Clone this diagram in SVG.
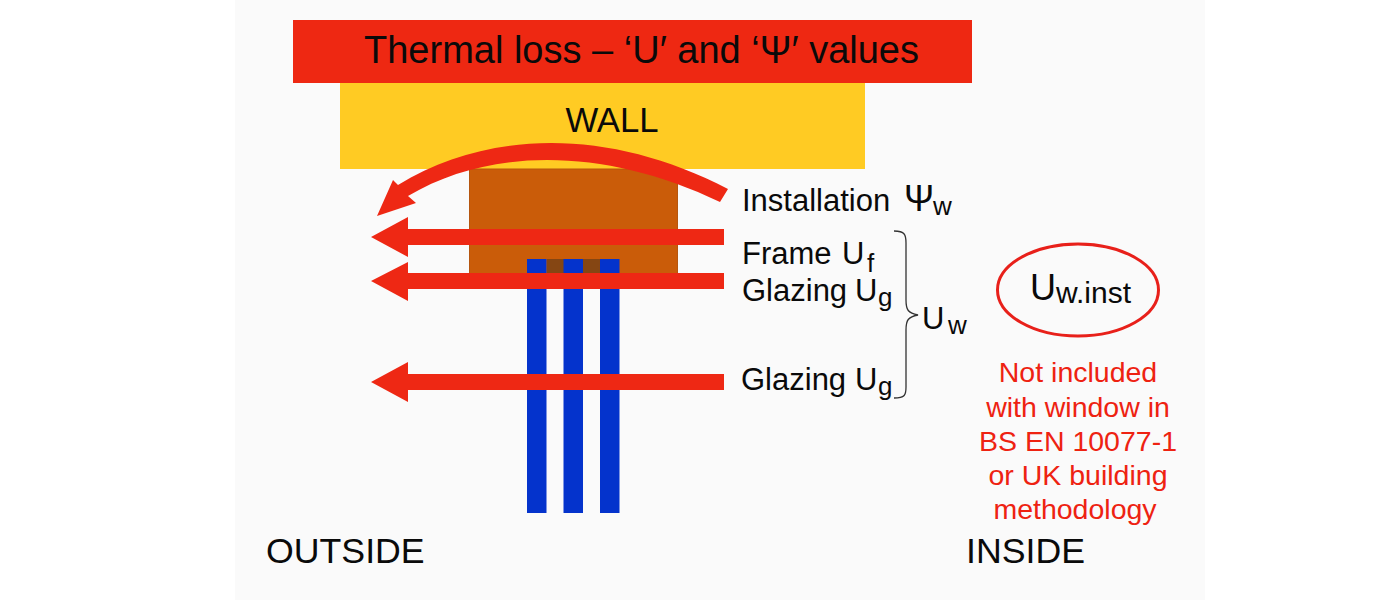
<svg xmlns="http://www.w3.org/2000/svg" width="1400" height="600" viewBox="0 0 1400 600">
<style>
text{font-family:"Liberation Sans",Arial,sans-serif;fill:#0a0a0a}
.lbl{font-size:31px}
.sub{font-size:26px}
.note{fill:#ee2211;font-size:28.500px;text-anchor:middle}
.glass{fill:#0433cc}
.arrow{fill:#ee2814}
.big{font-size:35.700px}
</style>
<rect width="1400" height="600" fill="#fff"/>
<rect x="235" y="0" width="970" height="600" fill="#fafafa"/>
<g id="title"><rect x="293" y="20" width="679" height="63" fill="#ee2812"/>
<text x="641.500" y="63" text-anchor="middle" style="font-size:38px">Thermal loss – ‘U′ and ‘Ψ′ values</text></g>
<g id="wall"><rect x="340" y="83" width="525" height="86" fill="#ffcb23"/>
<text x="612" y="132" text-anchor="middle" style="font-size:34.700px">WALL</text></g>
<g id="frame"><rect x="469.500" y="169" width="208" height="105" fill="#ca5c09" stroke="#b5560f" stroke-width="1"/></g>
<g id="glazing">
<rect x="547" y="259" width="17" height="15" fill="#854613"/>
<rect x="583" y="259" width="17" height="15" fill="#854613"/>
<rect class="glass" x="527" y="259" width="19.500" height="254"/>
<rect class="glass" x="563.500" y="259" width="19.500" height="254"/>
<rect class="glass" x="600" y="259" width="19.500" height="254"/>
</g>
<g id="connectors">
<path class="arrow" d="M724 229V245H408V257L371 237L408 217V229Z"/>
<path class="arrow" d="M724 273V289H408V301L371 281L408 262V273Z"/>
<path class="arrow" d="M724 374V390H408V402L371 382L408 362V374Z"/>
<path class="arrow" d="M728 189C610 128 490 129 398 185L393 180L377 216L416 203L408 196C490 147 606 147 720 202Z"/>
<path id="bracket" d="M894 231C905 231 906 235 906 243V300C906 310 908 313 918 315C908 317 906 320 906 330V387C906 395 905 398 894 398" fill="none" stroke="#333" stroke-width="1.300"/>
</g>
<g id="label-installation"><text class="lbl" x="742" y="211">Installation <tspan x="904" style="font-size:36px">Ψ</tspan><tspan class="sub" x="933" dy="4">w</tspan></text></g>
<g id="label-frame"><text class="lbl" x="742" y="264">Frame <tspan x="842">U</tspan><tspan class="sub" x="867" dy="8">f</tspan></text></g>
<g id="label-glazing-1"><text class="lbl" x="742" y="301">Glazing <tspan x="855">U</tspan><tspan class="sub" x="878" dy="5">g</tspan></text></g>
<g id="label-glazing-2"><text class="lbl" x="741" y="390">Glazing <tspan x="855">U</tspan><tspan class="sub" x="878" dy="5">g</tspan></text></g>
<g id="label-uw"><text class="lbl" x="922" y="329">U<tspan class="sub" x="948" dy="5">w</tspan></text></g>
<g id="uwinst"><ellipse cx="1078" cy="290" rx="80.500" ry="46" fill="none" stroke="#e8201a" stroke-width="3"/>
<text x="1030" y="300" style="font-size:36px">U<tspan style="font-size:30px" dy="3">w.inst</tspan></text></g>
<g id="note"><text class="note" x="1078" y="382">Not included</text>
<text class="note" x="1078" y="417">with window in</text>
<text class="note" x="1078" y="451">BS EN 10077-1</text>
<text class="note" x="1078" y="485">or UK building</text>
<text class="note" x="1075" y="519">methodology</text></g>
<g id="outside"><text class="big" x="266" y="563">OUTSIDE</text></g>
<g id="inside"><text class="big" x="966" y="563">INSIDE</text></g>
</svg>
